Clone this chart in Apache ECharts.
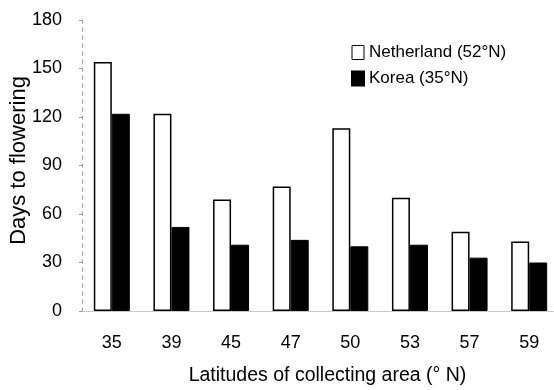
<!DOCTYPE html>
<html><head><meta charset="utf-8">
<script src="https://cdn.jsdelivr.net/npm/echarts@6/dist/echarts.min.js"></script>
<style>html,body{margin:0;padding:0;background:#fff}#c{width:554px;height:390px}</style>
</head><body><div id="c"></div>
<script>
const categories = ['35','39','45','47','50','53','57','59'];
const netherland = [154, 122, 69, 77, 113, 70, 49, 43];
const korea = [122, 52, 41, 44, 40, 41, 33, 30];
const yTicks = [0, 30, 60, 90, 120, 150, 180];

const FONT = '"Liberation Sans", Arial, sans-serif';
const chart = echarts.init(document.getElementById('c'));
chart.setOption({
  animation: false,
  backgroundColor: '#fff',
  textStyle: {fontFamily: FONT},
  legend: {
    left: 346, top: 39, orient: 'vertical', itemGap: 9,
    itemWidth: 12, itemHeight: 14,
    textStyle: {fontFamily: FONT, fontSize: 17, color: '#000'},
    data: [
      {name: 'Netherland (52°N)', icon: 'rect', itemStyle: {color: '#fff', borderColor: '#000', borderWidth: 1}},
      {name: 'Korea (35°N)', icon: 'rect'}
    ]
  },
  grid: {left: 82, top: 20, width: 477, height: 291, containLabel: false, outerBoundsMode: 'none'},
  xAxis: {
    type: 'category', data: categories,
    axisLine: {show: true, lineStyle: {color: '#bbb', width: 1, type: 'dotted'}},
    axisTick: {show: false},
    axisLabel: {margin: 23, fontSize: 18, color: '#000', fontFamily: FONT},
    name: 'Latitudes of collecting area (° N)',
    nameLocation: 'middle', nameGap: 55, nameMoveOverlap: false,
    nameTextStyle: {fontSize: 19.5, color: '#000', fontFamily: FONT, padding: [0, 0, 0, 14]}
  },
  yAxis: {
    type: 'value', min: 0, max: 180, interval: 30,
    axisLine: {show: true, lineStyle: {color: '#999', width: 1, type: [3, 5]}},
    axisTick: {show: true, length: 3, lineStyle: {color: '#999'}},
    splitLine: {show: false},
    axisLabel: {margin: 20, fontSize: 18, color: '#000', fontFamily: FONT,
      formatter: v => yTicks.includes(v) ? String(v) : ''},
    name: 'Days to flowering', nameLocation: 'middle', nameGap: 52, nameRotate: 90,
    nameMoveOverlap: false,
    nameTextStyle: {fontSize: 22, color: '#000', fontFamily: FONT, padding: [0, 0, 0, 10]}
  },
  series: [
    {name: 'Netherland (52°N)', type: 'bar', data: netherland, barWidth: 18, barGap: '0%',
     itemStyle: {color: '#fff', borderColor: '#000', borderWidth: 1.5}},
    {name: 'Korea (35°N)', type: 'bar', data: korea, barWidth: 18,
     itemStyle: {color: '#000', borderColor: '#000', borderWidth: 1}}
  ]
});
</script></body></html>
